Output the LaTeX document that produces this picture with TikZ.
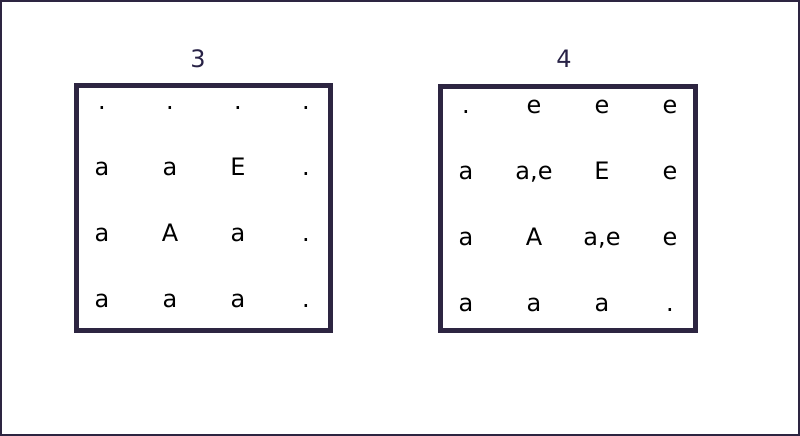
\documentclass[tikz,border=0pt]{standalone}
\usepackage{fontspec}
\setmainfont{DejaVu Sans}
\usepackage{tikz}
\usetikzlibrary{positioning}

\definecolor{boardline}{RGB}{45,37,65}
\definecolor{titleink}{RGB}{40,34,70}

\tikzset{
    cell/.style={font=\fontsize{24}{28}\selectfont, text height=15pt, text depth=0pt, inner sep=0pt},
    board/.style={draw=boardline, line width=5pt},
    title/.style={font=\fontsize{24}{28}\selectfont, text=titleink}
}

\begin{document}
\begin{tikzpicture}[x=1pt, y=-1pt, on grid, node distance=66.3pt and 68pt]
        \useasboundingbox (0,0) rectangle (800,436);
        \draw[boardline, line width=2pt] (1,1) rectangle (799,435);

        % grid 3
        \draw[board] (76.5,85.5) rectangle (330.5,330.5);
        \node[title] (t3) at (198,59) {3};
        \node[cell] (l11) at (102,101.5) {.};
        \node[cell, right=of l11] (l12) {.};
        \node[cell, right=of l12] (l13) {.};
        \node[cell, right=of l13] (l14) {.};
        \node[cell, below=of l11] (l21) {a};
        \node[cell, right=of l21] (l22) {a};
        \node[cell, right=of l22] (l23) {E};
        \node[cell, right=of l23] (l24) {.};
        \node[cell, below=of l21] (l31) {a};
        \node[cell, right=of l31] (l32) {A};
        \node[cell, right=of l32] (l33) {a};
        \node[cell, right=of l33] (l34) {.};
        \node[cell, below=of l31] (l41) {a};
        \node[cell, right=of l41] (l42) {a};
        \node[cell, right=of l42] (l43) {a};
        \node[cell, right=of l43] (l44) {.};

        % grid 4
        \draw[board] (440.5,86.5) rectangle (695,330.5);
        \node[title] (t4) at (564,59) {4};
        \node[cell] (r11) at (466,105.5) {.};
        \node[cell, right=of r11] (r12) {e};
        \node[cell, right=of r12] (r13) {e};
        \node[cell, right=of r13] (r14) {e};
        \node[cell, below=of r11] (r21) {a};
        \node[cell, right=of r21] (r22) {a,e};
        \node[cell, right=of r22] (r23) {E};
        \node[cell, right=of r23] (r24) {e};
        \node[cell, below=of r21] (r31) {a};
        \node[cell, right=of r31] (r32) {A};
        \node[cell, right=of r32] (r33) {a,e};
        \node[cell, right=of r33] (r34) {e};
        \node[cell, below=of r31] (r41) {a};
        \node[cell, right=of r41] (r42) {a};
        \node[cell, right=of r42] (r43) {a};
        \node[cell, right=of r43] (r44) {.};
\end{tikzpicture}
\end{document}
